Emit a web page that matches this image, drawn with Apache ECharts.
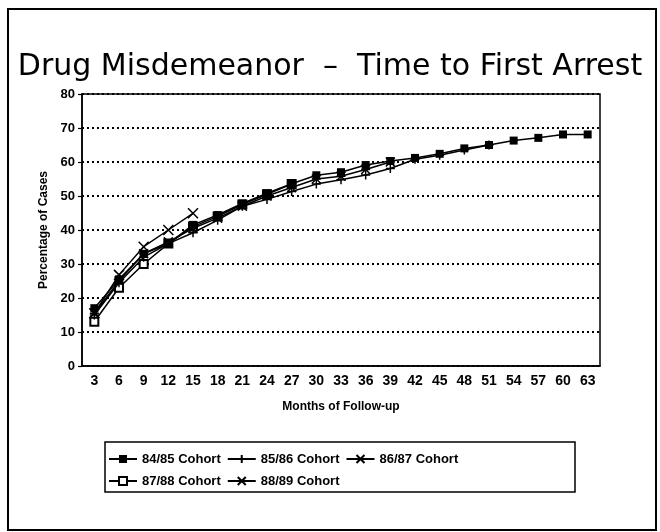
<!DOCTYPE html>
<html>
<head>
<meta charset="utf-8">
<script src="https://cdn.jsdelivr.net/npm/echarts@6/dist/echarts.min.js"></script>
<style>
html,body{margin:0;padding:0;background:#fff;}
#chart{width:660px;height:532px;}
</style>
</head>
<body>
<div id="chart"></div>
<script>
const months = ['3','6','9','12','15','18','21','24','27','30','33','36','39','42','45','48','51','54','57','60','63'];
const yTicks = [0,10,20,30,40,50,60,70,80];
const cohortNames = ['84/85 Cohort','85/86 Cohort','86/87 Cohort','87/88 Cohort','88/89 Cohort'];
const c8485 = [17,25.5,33,36,41.5,44.4,47.8,50.8,53.6,56.1,57,59.1,60.3,61.2,62.4,64,65,66.3,67.1,68.1,68.1];
const c8586 = [15,24.5,32,36,39.2,42.9,47,49,51.3,53.5,54.8,56.2,58.1,60.8,62,63.5,65];
const c8687 = [15.5,25,33,36.5,40.5,43.5,47,50,52.5,55,55.8,57.8,60];
const c8788 = [13,23,30,36,41,44,47.5,50.5,53.5];
const c8889 = [15.5,26.8,35.1,40,44.9];

const seriesData = [c8485,c8586,c8687,c8788,c8889];
const symbols = [
  'rect',
  'path://M0,5L10,5M5,0L5,10',
  'path://M0,0L10,10M0,10L10,0M0,5L10,5',
  'emptyRect',
  'path://M0,0L10,10M0,10L10,0'
];
const symSizes = [8,9,9,8,10];

const chart = echarts.init(document.getElementById('chart'));
const font = 'Liberation Sans';
chart.setOption({
  animation:false,
  backgroundColor:'#fff',
  title:{
    text:'Drug Misdemeanor  \u2013  Time to First Arrest',
    left:'center', top:47,
    textStyle:{fontFamily:'DejaVu Sans',fontSize:30,fontWeight:'normal',color:'#000'}
  },
  grid:{left:82,right:60,top:94,bottom:166,show:true,borderColor:'#000',borderWidth:1.5,backgroundColor:'transparent'},
  legend:{
    data:cohortNames,
    left:108, top:451, width:370,
    itemWidth:28, itemHeight:10, itemGap:6,
    textStyle:{fontFamily:font,fontSize:13,fontWeight:'bold',color:'#000',lineHeight:16},
    padding:0
  },
  xAxis:{
    type:'category', data:months, boundaryGap:true,
    name:'Months of Follow-up', nameLocation:'middle', nameGap:35,
    nameTextStyle:{fontFamily:font,fontSize:12,fontWeight:'bold',color:'#000'},
    axisLine:{lineStyle:{color:'#000',width:1.5}},
    axisTick:{alignWithLabel:true,length:5,lineStyle:{color:'#000',width:1.2}},
    axisLabel:{fontFamily:font,fontSize:14,fontWeight:'bold',color:'#000',margin:8,interval:0},
    splitLine:{show:false}
  },
  yAxis:{
    type:'value', min:yTicks[0], max:yTicks[yTicks.length-1], interval:10,
    name:'Percentage of Cases', nameLocation:'middle', nameGap:30,
    nameTextStyle:{fontFamily:font,fontSize:12,fontWeight:'bold',color:'#000'},
    axisLine:{show:true,lineStyle:{color:'#000',width:1.5}},
    axisTick:{show:true,length:4,lineStyle:{color:'#000',width:1.2}},
    axisLabel:{fontFamily:font,fontSize:13,fontWeight:'bold',color:'#000',margin:7},
    splitLine:{show:true,lineStyle:{color:'#000',type:[2,3],width:2}}
  },
  graphic:[
    {type:'rect',shape:{x:8,y:9,width:648,height:521},style:{fill:'none',stroke:'#000',lineWidth:2},silent:true},
    {type:'rect',shape:{x:105,y:442,width:470,height:50},style:{fill:'none',stroke:'#000',lineWidth:1.5},silent:true}
  ],
  series: seriesData.map((d,i)=>({
    name:cohortNames[i], type:'line', data:d,
    symbol:symbols[i], symbolSize:symSizes[i],
    lineStyle:{color:'#000',width:1.5},
    itemStyle:{color:'#000',borderColor:'#000',borderWidth:i===0?0:1.5},
    z:10-i
  }))
});
</script>
</body>
</html>
